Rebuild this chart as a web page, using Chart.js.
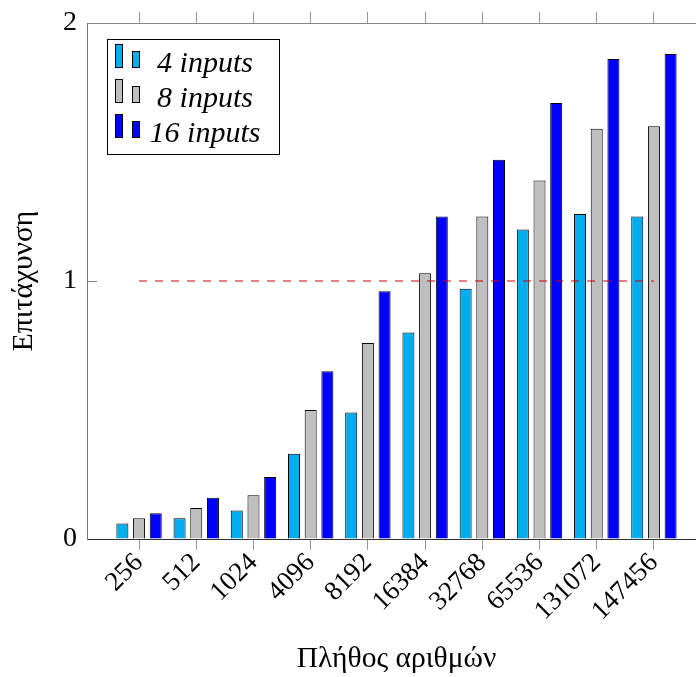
<!DOCTYPE html>
<html lang="el">
  <head>
    <meta charset="UTF-8" />
    <title>Επιτάχυνση</title>
    <script src="https://cdn.jsdelivr.net/npm/chart.js"></script>
    <style>
      body {
        margin: 0;
        overflow: hidden;
        background: white;
      }
    </style>
  </head>
  <body>
    <canvas id="chart" width="710" height="677"></canvas>

    <script>
      // data
      const sizes = ["256", "512", "1024", "4096", "8192", "16384", "32768", "65536", "131072", "147456"];
      const inputs4 = [0.06, 0.08, 0.11, 0.33, 0.49, 0.8, 0.97, 1.2, 1.26, 1.25];
      const inputs8 = [0.08, 0.12, 0.17, 0.5, 0.76, 1.03, 1.25, 1.39, 1.59, 1.6];
      const inputs16 = [0.1, 0.16, 0.24, 0.65, 0.96, 1.25, 1.47, 1.69, 1.86, 1.88];
      const seriesNames = ["4 inputs", "8 inputs", "16 inputs"];
      const yTicks = [0, 1, 2];
      const baseline = 1;

      const serif = "'Liberation Serif', 'DejaVu Serif', serif";

      const points = (arr) => arr.map((v, i) => ({ x: i, y: v }));
      const categoryTicks = (axis) => {
        axis.ticks = sizes.map((_, i) => ({ value: i }));
      };
      const noPad = (s) => {
        s.paddingLeft = 0;
        s.paddingRight = 0;
        s.paddingTop = 0;
        s.paddingBottom = 0;
      };

      // legend drawn inside the plot, pgfplots style (two small bars per entry)
      const boxLegend = {
        id: "boxLegend",
        afterDraw(chart) {
          const ctx = chart.ctx;
          const bars = chart.data.datasets.filter((d) => d.type !== "line");
          ctx.save();
          ctx.fillStyle = "white";
          ctx.fillRect(107, 39, 172, 115);
          ctx.strokeStyle = "black";
          ctx.lineWidth = 1;
          ctx.strokeRect(107.5, 39.5, 172, 115);
          ctx.font = "italic 30px " + serif;
          ctx.textAlign = "center";
          ctx.textBaseline = "alphabetic";
          bars.forEach((d, i) => {
            const top = 44 + i * 35;
            ctx.fillStyle = d.backgroundColor;
            ctx.fillRect(115, top, 8, 24);
            ctx.strokeRect(115.5, top + 0.5, 7, 23);
            ctx.fillRect(132, top + 7, 8, 17);
            ctx.strokeRect(132.5, top + 7.5, 7, 16);
            ctx.fillStyle = "black";
            ctx.fillText(d.label, 205, top + 28);
          });
          ctx.restore();
        },
      };

      const barStyle = {
        borderColor: "#000",
        borderWidth: 1,
        borderSkipped: "bottom",
        categoryPercentage: 0.875,
        barPercentage: 0.72,
      };

      new Chart(document.getElementById("chart"), {
        type: "bar",
        data: {
          datasets: [
            { label: seriesNames[0], data: points(inputs4), backgroundColor: "#00ADEF", ...barStyle },
            { label: seriesNames[1], data: points(inputs8), backgroundColor: "#BFBFBF", ...barStyle },
            { label: seriesNames[2], data: points(inputs16), backgroundColor: "#0000FF", ...barStyle },
            {
              type: "line",
              label: "baseline",
              data: [
                { x: 0, y: baseline },
                { x: sizes.length - 1, y: baseline },
              ],
              borderColor: "#D00000",
              borderWidth: 1.2,
              borderDash: [8, 8],
              pointRadius: 0,
              order: -1,
            },
          ],
        },
        options: {
          responsive: false,
          animation: false,
          devicePixelRatio: 1,
          layout: { padding: { left: 0, right: 4, top: 0, bottom: 0 } },
          plugins: {
            legend: { display: false },
            tooltip: { enabled: false },
          },
          scales: {
            x: {
              type: "linear",
              position: "bottom",
              offset: false,
              min: -0.91,
              max: sizes.length - 1 + 0.91,
              afterBuildTicks: categoryTicks,
              afterFit: (s) => {
                s.height = 138;
                noPad(s);
              },
              grid: {
                offset: false,
                drawOnChartArea: false,
                tickLength: 11,
                tickColor: "#999",
              },
              border: { color: "#333", width: 1 },
              ticks: {
                autoSkip: false,
                minRotation: 45,
                maxRotation: 45,
                padding: -3,
                color: "black",
                font: { family: serif, size: 27 },
                callback: (v) => sizes[v],
              },
              title: {
                display: true,
                text: "Πλήθος αριθμών",
                color: "black",
                font: { family: serif, size: 29.5 },
                padding: { top: 0, bottom: 0 },
              },
            },
            xTop: {
              type: "linear",
              position: "top",
              offset: false,
              min: -0.91,
              max: sizes.length - 1 + 0.91,
              afterBuildTicks: categoryTicks,
              afterFit: (s) => {
                s.height = 23;
                noPad(s);
              },
              grid: {
                offset: false,
                drawOnChartArea: false,
                tickLength: 11,
                tickColor: "#999",
              },
              border: { color: "#888", width: 1 },
              ticks: { display: false },
            },
            y: {
              min: 0,
              max: 2,
              afterBuildTicks: (axis) => {
                axis.ticks = yTicks.map((v) => ({ value: v }));
              },
              afterFit: (s) => {
                s.width = 87;
                noPad(s);
              },
              grid: {
                drawOnChartArea: false,
                tickLength: -10,
                tickColor: "#888",
              },
              border: { color: "#777", width: 1 },
              ticks: {
                padding: 20,
                color: "black",
                font: { family: serif, size: 28 },
              },
              title: {
                display: true,
                text: "Επιτάχυνση",
                color: "black",
                font: { family: serif, size: 29.5 },
                padding: { top: 7, bottom: 0 },
              },
            },
          },
        },
        plugins: [boxLegend],
      });
    </script>
  </body>
</html>
